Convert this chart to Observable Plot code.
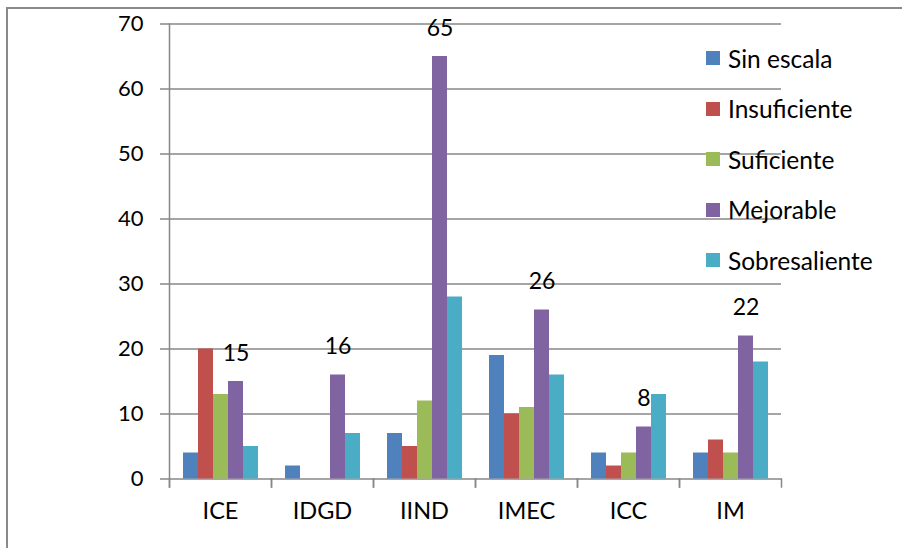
<!DOCTYPE html>
<html>
<head>
<meta charset="utf-8">
<script src="https://cdn.jsdelivr.net/npm/d3@7"></script>
<script src="https://cdn.jsdelivr.net/npm/@observablehq/plot@0.6"></script>
<style>
  html, body { margin: 0; padding: 0; background: #fff; }
  #wrap { position: relative; width: 902px; height: 548px; overflow: hidden; background: #fff; font-family: Lato, "Open Sans", sans-serif; }
  #border { position: absolute; left: 6px; top: 7px; width: 1000px; height: 1000px; border-left: 2px solid #8a8a8a; border-top: 2px solid #8a8a8a; box-sizing: border-box; }
  #chart { position: absolute; left: 0; top: 0; }
  #legend { position: absolute; left: 706px; top: 44px; }
  .row { display: flex; align-items: center; height: 28px; margin-bottom: 22.5px; font-size: 24.5px; color: #000; white-space: nowrap; }
  .sw { width: 14px; height: 14px; margin-right: 8px; flex: none; }
</style>
</head>
<body>
<div id="wrap">
  <div id="border"></div>
  <div id="chart"></div>
  <div id="legend"></div>
</div>
<script>
const categories = ["ICE", "IDGD", "IIND", "IMEC", "ICC", "IM"];
const series = ["Sin escala", "Insuficiente", "Suficiente", "Mejorable", "Sobresaliente"];
const colors = ["#4F81BD", "#C0504D", "#9BBB59", "#8064A2", "#4BACC6"];
const sinEscala = [4, 2, 7, 19, 4, 4];
const insuficiente = [20, 0, 5, 10, 2, 6];
const suficiente = [13, 0, 12, 11, 4, 4];
const mejorable = [15, 16, 65, 26, 8, 22];
const sobresaliente = [5, 7, 28, 16, 13, 18];
const yTicks = [0, 10, 20, 30, 40, 50, 60, 70];
const labeledSeries = "Mejorable";

const valuesBySeries = [sinEscala, insuficiente, suficiente, mejorable, sobresaliente];
const data = [];
categories.forEach((c, i) => {
  series.forEach((s, j) => {
    data.push({category: c, series: s, value: valuesBySeries[j][i]});
  });
});

const W = 902, H = 548;
const mTop = 23.5, mBottom = 69.5, mLeft = 168, mRight = 120;
const plotH = H - mTop - mBottom;
const gray = "#878787";

const chart = Plot.plot({
  width: W,
  height: H,
  marginTop: mTop,
  marginBottom: mBottom,
  marginLeft: mLeft,
  marginRight: mRight,
  style: {fontFamily: "Lato, 'Open Sans', sans-serif", color: "#000", background: "transparent"},
  fx: {domain: categories, padding: 0, label: null},
  x: {domain: series, paddingInner: 0, paddingOuter: 0.69, axis: null},
  y: {domain: [0, 70], label: null},
  color: {domain: series, range: colors},
  marks: [
    Plot.gridY(yTicks, {stroke: gray, strokeOpacity: 1, strokeWidth: 1.5}),
    Plot.axisY(yTicks, {tickSize: 9, tickPadding: 17, stroke: gray, strokeWidth: 1.5, fontSize: 22, label: null}),
    Plot.axisFx({anchor: "bottom", tickSize: 0, tickPadding: 23.5, fontSize: 23.5, label: null}),
    Plot.barY(data, {fx: "category", x: "series", y: "value", fill: "series"}),
    Plot.frame({anchor: "left", facetAnchor: "left", stroke: gray, strokeWidth: 1.5, strokeOpacity: 1, insetBottom: -8}),
    Plot.frame({anchor: "left", stroke: gray, strokeWidth: 1.5, strokeOpacity: 1, insetTop: plotH, insetBottom: -8}),
    Plot.frame({anchor: "right", stroke: gray, strokeWidth: 1.5, strokeOpacity: 1, insetTop: plotH, insetBottom: -8}),
    Plot.text(data.filter(d => d.series === labeledSeries), {
      fx: "category", x: "series", y: "value", text: d => String(d.value),
      dy: -28, fontSize: 23, fill: "#000", textAnchor: "middle", lineAnchor: "middle"
    })
  ]
});
document.getElementById("chart").appendChild(chart);

const legend = d3.select("#legend");
series.forEach((s, i) => {
  const row = legend.append("div").attr("class", "row");
  row.append("div").attr("class", "sw").style("background", colors[i]);
  row.append("span").text(s);
});
</script>
</body>
</html>
